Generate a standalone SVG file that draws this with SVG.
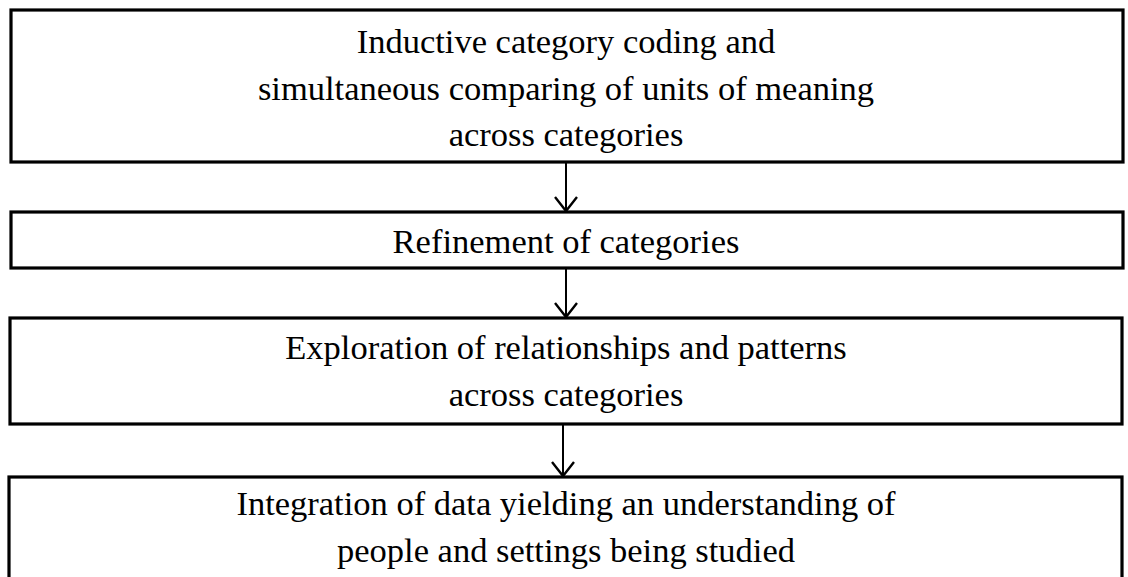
<svg xmlns="http://www.w3.org/2000/svg" width="1128" height="577" viewBox="0 0 1128 577">
<defs>
<style>
.box{fill:#fff;stroke:#000;stroke-width:3.2}
.t{font-family:"Liberation Serif","Times New Roman",serif;font-size:34.5px;fill:#000;text-anchor:middle}
.c{stroke:#000;stroke-width:2;fill:none}
</style>
<marker id="ah" markerWidth="18" markerHeight="26" refX="15" refY="13" orient="auto" markerUnits="userSpaceOnUse" viewBox="0 0 18 26">
<path d="M1,2 L15,13 L1,24" stroke="#000" stroke-width="2.4" fill="none"/>
</marker>
</defs>
<rect width="1128" height="577" fill="#fff"/>
<g id="n1">
<rect class="box" x="11" y="10" width="1112" height="152"/>
<text class="t" x="566" y="53">Inductive category coding and</text>
<text class="t" x="566" y="100">simultaneous comparing of units of meaning</text>
<text class="t" x="566" y="146">across categories</text>
</g>
<g id="n2">
<rect class="box" x="11" y="212" width="1112" height="56"/>
<text class="t" x="566" y="253">Refinement of categories</text>
</g>
<g id="n3">
<rect class="box" x="10" y="318" width="1112" height="106"/>
<text class="t" x="566" y="359">Exploration of relationships and patterns</text>
<text class="t" x="566" y="406">across categories</text>
</g>
<g id="n4">
<rect class="box" x="9" y="477" width="1113" height="110"/>
<text class="t" x="566" y="515">Integration of data yielding an understanding of</text>
<text class="t" x="566" y="562">people and settings being studied</text>
</g>
<g id="connectors">
<line class="c" x1="566" y1="163" x2="566" y2="211" marker-end="url(#ah)"/>
<line class="c" x1="566" y1="269" x2="566" y2="317" marker-end="url(#ah)"/>
<line class="c" x1="563" y1="425" x2="563" y2="476" marker-end="url(#ah)"/>
</g>
</svg>
